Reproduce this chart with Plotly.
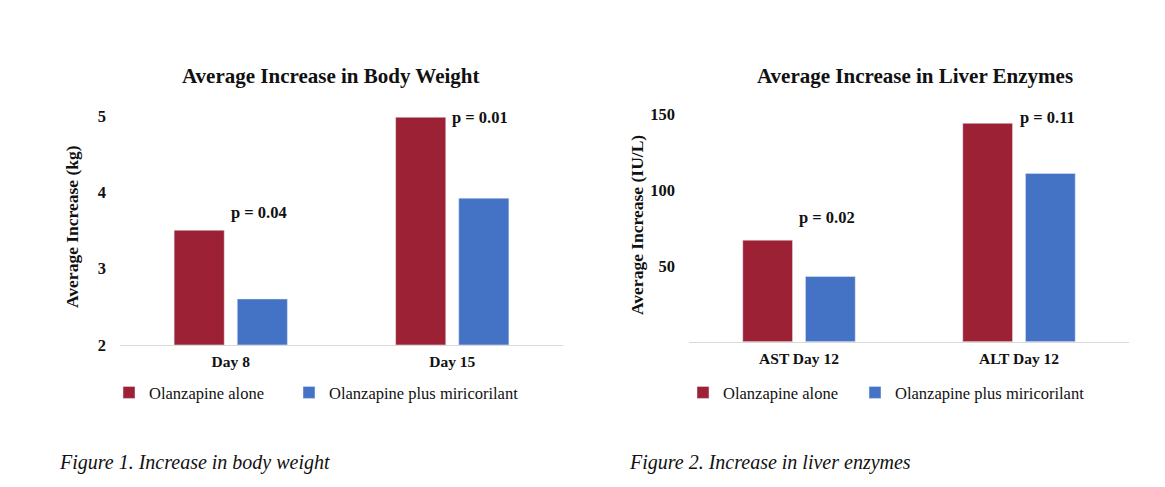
import plotly.graph_objects as go

# ---- data ----
bw_categories = ["Day 8", "Day 15"]
bw_olanzapine = [3.5, 4.98]
bw_miricorilant = [2.6, 3.92]
bw_pvalues = ["p = 0.04", "p = 0.01"]
bw_ticks = [2, 3, 4, 5]

le_categories = ["AST Day 12", "ALT Day 12"]
le_olanzapine = [67, 144]
le_miricorilant = [43, 111]
le_pvalues = ["p = 0.02", "p = 0.11"]
le_ticks = [50, 100, 150]

series_names = ["Olanzapine alone", "Olanzapine plus miricorilant"]

RED = "#9C2135"
BLUE = "#4472C4"
FONT = "Liberation Serif"
TXT = "#111111"
W, H = 1165, 487

def px(x):
    return (x - 8) / W

def py(y):
    return (H - (y - 13.6) / 0.969) / H

fig = go.Figure()

fig.add_trace(go.Bar(x=bw_categories, y=bw_olanzapine, name=series_names[0],
                     marker_color=RED, xaxis="x", yaxis="y", legend="legend", legendwidth=135))
fig.add_trace(go.Bar(x=bw_categories, y=bw_miricorilant, name=series_names[1],
                     marker_color=BLUE, xaxis="x", yaxis="y", legend="legend", legendwidth=230))
fig.add_trace(go.Bar(x=le_categories, y=le_olanzapine, name=series_names[0],
                     marker_color=RED, xaxis="x2", yaxis="y2", legend="legend2", legendwidth=127))
fig.add_trace(go.Bar(x=le_categories, y=le_miricorilant, name=series_names[1],
                     marker_color=BLUE, xaxis="x2", yaxis="y2", legend="legend2", legendwidth=230))

tickfont = dict(family=FONT, size=16.5, color=TXT, weight="bold")
xtickfont = dict(family=FONT, size=15.5, color=TXT, weight="bold")
pfont = dict(family=FONT, size=16.5, color=TXT)

annotations = []
bw_p_y = [3.73, 4.98]
for cat, txt, yv in zip(bw_categories, bw_pvalues, bw_p_y):
    annotations.append(dict(x=cat, y=yv, xref="x", yref="y", text="<b>%s</b>" % txt,
                            showarrow=False, xshift=28, font=pfont))
le_p_y = [82, 148]
for cat, txt, yv in zip(le_categories, le_pvalues, le_p_y):
    annotations.append(dict(x=cat, y=yv, xref="x2", yref="y2", text="<b>%s</b>" % txt,
                            showarrow=False, xshift=28, font=pfont))

annotations.append(dict(x=px(330.5), y=py(76), xref="paper", yref="paper",
                        text="<b>Average Increase in Body Weight</b>", showarrow=False,
                        xanchor="center", yanchor="middle",
                        font=dict(family=FONT, size=21, color=TXT)))
annotations.append(dict(x=px(915), y=py(76), xref="paper", yref="paper",
                        text="<b>Average Increase in Liver Enzymes</b>", showarrow=False,
                        xanchor="center", yanchor="middle",
                        font=dict(family=FONT, size=21, color=TXT)))
annotations.append(dict(x=px(72), y=py(227), xref="paper", yref="paper",
                        text="<b>Average Increase (kg)</b>", showarrow=False, textangle=-90,
                        xanchor="center", yanchor="middle",
                        font=dict(family=FONT, size=17.5, color=TXT)))
annotations.append(dict(x=px(637), y=py(225), xref="paper", yref="paper",
                        text="<b>Average Increase (IU/L)</b>", showarrow=False, textangle=-90,
                        xanchor="center", yanchor="middle",
                        font=dict(family=FONT, size=17.5, color=TXT)))
annotations.append(dict(x=px(57), y=py(463), xref="paper", yref="paper",
                        text="<i>Figure 1. Increase in body weight</i>", showarrow=False,
                        xanchor="left", yanchor="middle",
                        font=dict(family=FONT, size=20, color=TXT)))
annotations.append(dict(x=px(627), y=py(463), xref="paper", yref="paper",
                        text="<i>Figure 2. Increase in liver enzymes</i>", showarrow=False,
                        xanchor="left", yanchor="middle",
                        font=dict(family=FONT, size=20, color=TXT)))

legend_font = dict(family=FONT, size=16.5, color=TXT)

fig.update_layout(
    width=W, height=H,
    margin=dict(l=0, r=0, t=0, b=0),
    paper_bgcolor="white", plot_bgcolor="white",
    barmode="group", bargap=0.43, bargroupgap=0.206,
    showlegend=True,
    xaxis=dict(domain=[px(120), px(563)], anchor="y", showgrid=False, showline=True,
               linecolor="#D9D9D9", linewidth=1, ticks="", tickfont=xtickfont,
               ticklabelstandoff=3),
    yaxis=dict(domain=[py(345), py(111.7)], anchor="x", range=[2, 5.05], tickvals=bw_ticks,
               showgrid=False, showline=False, zeroline=False, ticks="", tickfont=tickfont,
               ticklabelstandoff=13),
    xaxis2=dict(domain=[px(689), px(1129)], anchor="y2", showgrid=False, showline=True,
                linecolor="#D9D9D9", linewidth=1, ticks="", tickfont=xtickfont,
                ticklabelstandoff=3),
    yaxis2=dict(domain=[py(342), py(111)], anchor="x2", range=[0, 152], tickvals=le_ticks,
                showgrid=False, showline=False, zeroline=False, ticks="", tickfont=tickfont,
                ticklabelstandoff=13),
    legend=dict(orientation="h", x=px(109), y=py(393), xanchor="left", yanchor="middle",
                font=legend_font, bgcolor="rgba(0,0,0,0)", traceorder="normal"),
    legend2=dict(orientation="h", x=px(683), y=py(393), xanchor="left", yanchor="middle",
                 font=legend_font, bgcolor="rgba(0,0,0,0)", traceorder="normal"),
    annotations=annotations,
)

fig.write_html("out.html")
